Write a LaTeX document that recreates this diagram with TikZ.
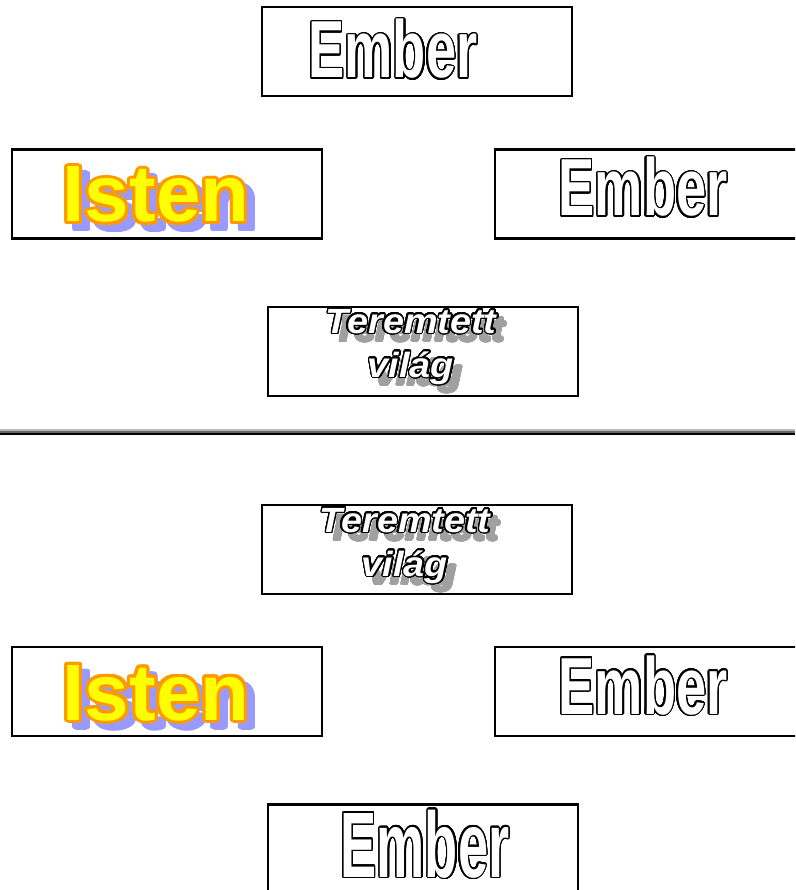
\documentclass[tikz,border=0pt]{standalone}
\usepackage{fontspec}
\usepackage{xcolor}
\usepackage{tikz}
\usepackage[copies]{contour}
\setmainfont{Liberation Sans}
\newfontfamily\emberfont{Liberation Sans}[FakeStretch=0.67]
\newfontfamily\istenfont{Liberation Sans}
\newfontfamily\vilagfont{Liberation Sans}[FakeStretch=1.08]
\definecolor{istenfill}{HTML}{FFFF00}
\definecolor{istenline}{HTML}{FF9900}
\definecolor{istenshadow}{HTML}{9999FF}
\definecolor{vilagshadow}{HTML}{A0A0A0}
\contournumber{32}
\contourlength{1.4pt}

\begin{document}
\begin{tikzpicture}[x=1pt,y=-1pt]
            \tikzset{box/.style = {draw, line width=2.8pt, minimum width=310pt, minimum height=89pt, inner sep=0pt}}
            \tikzset{word/.style = {anchor=base, inner sep=0pt}}
            \tikzset{emberword/.style = {word, font=\emberfont\bfseries\fontsize{81}{81}\selectfont}}
            \tikzset{istenword/.style = {word, font=\istenfont\bfseries\fontsize{80}{80}\selectfont}}
            \tikzset{vilagword/.style = {word, align=center, font=\vilagfont\bfseries\itshape\fontsize{35}{44}\selectfont}}

            \useasboundingbox (0,0) rectangle (795,890);
            \clip (0,0) rectangle (795,890);

            % boxes
            \foreach \n/\x/\y in {ember1/417/51.5, isten1/167/194, ember2/650/194, vilag1/423/351.5,
                                  vilag2/417/549.5, isten2/167/691.5, ember3/650/691.5, ember4/423/849}
            {
              \node[box] (\n) at (\x,\y) {};
            }

            % separator
            \coordinate (sepl) at (0,434);
            \coordinate (sepr) at (795,434);
            \draw[line width=2.5pt] (sepl) -- (sepr);
            \draw[line width=2pt, black!60] ([yshift=2.2pt]sepl) -- ([yshift=2.2pt]sepr);
            \draw[line width=2pt, black!28] ([yshift=4.2pt]sepl) -- ([yshift=4.2pt]sepr);

            % Ember
            \node[emberword] (ember1text) at (393,78) {\contour{black}{\color{white}Ember}};
            \node[emberword] (ember2text) at (643,216) {\contour{black}{\color{white}Ember}};
            \node[emberword] (ember3text) at (643,714) {\contour{black}{\color{white}Ember}};
            \node[emberword, font=\emberfont\bfseries\fontsize{93}{93}\selectfont] (ember4text) at (425,877)
              {\scalebox{0.87}[1]{\contour{black}{\color{white}Ember}}};

            % Isten
            \foreach \n/\y in {isten1/222, isten2/720}
            {
              \node[istenword] (\n shadow) at (164,\y+7) {{\contourlength{3pt}\contour{istenshadow}{\color{istenshadow}Isten}}};
              \node[istenword] (\n text) at (156,\y) {{\contourlength{3pt}\contour{istenline}{\color{istenfill}Isten}}};
            }

            % Teremtett vilag (base = last line)
            \foreach \n/\x/\y in {vilag1/411/377, vilag2/405/576}
            {
              \node[vilagword] (\n shadow) at (\x+8,\y+8) {\contour{vilagshadow}{\color{vilagshadow}Teremtett}\\ \contour{vilagshadow}{\color{vilagshadow}világ}};
              \node[vilagword] (\n text) at (\x,\y) {\contour{black}{\color{white}Teremtett}\\ \contour{black}{\color{white}világ}};
            }

          \end{tikzpicture}
\end{document}
